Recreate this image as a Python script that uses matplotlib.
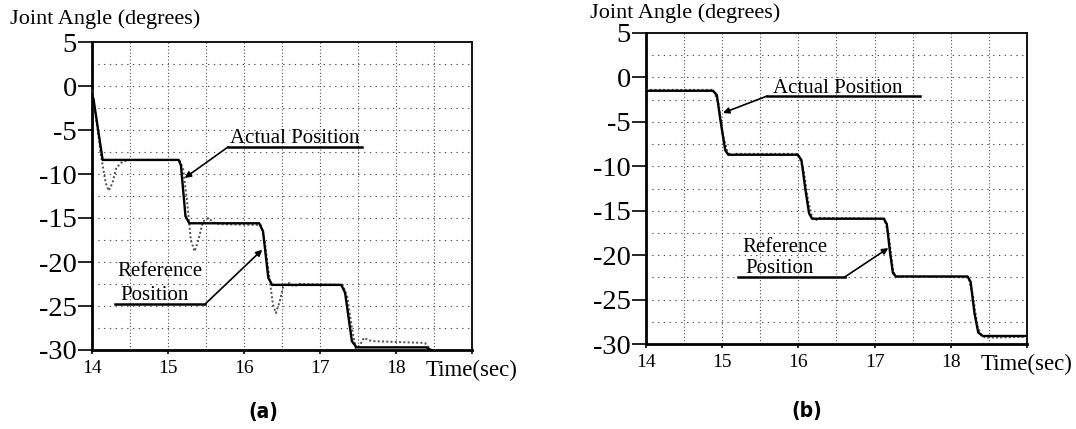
import numpy as np
import matplotlib
matplotlib.use("Agg")
import matplotlib.pyplot as plt

plt.rcParams["font.family"] = ["Liberation Serif", "DejaVu Serif"]
plt.rcParams["axes.unicode_minus"] = False

# panel (a): step response with oscillation
t_ref_a = [14.00, 14.02, 14.14, 15.14, 15.17, 15.23, 15.28, 16.20, 16.25, 16.32, 16.37,
           17.28, 17.33, 17.42, 17.48, 18.40, 18.46]
ref_a = [-1.0, -1.5, -8.4, -8.4, -9.0, -14.8, -15.6, -15.6, -16.5, -21.8, -22.6,
         -22.6, -23.5, -29.0, -29.7, -29.7, -30.0]

t_act_a = [14.00, 14.05, 14.12, 14.18, 14.22, 14.27, 14.32, 14.40, 14.50, 15.15, 15.20,
           15.25, 15.30, 15.35, 15.40, 15.46, 15.53, 15.60, 15.68, 16.22, 16.27, 16.33,
           16.38, 16.42, 16.47, 16.52, 16.60, 16.66, 16.72, 17.30, 17.36, 17.42, 17.47,
           17.52, 17.58, 17.64, 17.72, 18.38, 18.46]
act_a = [-0.5, -3.5, -8.0, -11.0, -11.9, -11.0, -9.3, -8.6, -8.4, -8.4, -9.5,
         -13.0, -17.5, -18.8, -17.5, -15.4, -15.0, -15.5, -15.7, -15.8, -17.5, -21.5,
         -24.8, -25.8, -24.5, -22.6, -22.4, -22.8, -22.5, -22.6, -24.0, -27.5, -29.8,
         -29.5, -28.6, -28.9, -29.0, -29.2, -30.0]

# panel (b): well damped response
t_ref_b = [14.0, 14.88, 14.93, 14.98, 15.04, 15.08, 15.99, 16.04, 16.09, 16.14, 16.18,
           17.12, 17.16, 17.20, 17.24, 17.28, 18.22, 18.26, 18.31, 18.36, 18.42, 19.0]
ref_b = [-1.5, -1.5, -2.0, -5.0, -8.2, -8.7, -8.7, -9.3, -12.5, -15.3, -15.9,
         -15.9, -16.5, -19.5, -22.0, -22.4, -22.4, -23.0, -26.5, -28.7, -29.1, -29.1]

t_act_b = [14.0, 14.88, 14.95, 15.01, 15.07, 15.12, 15.18, 16.00, 16.07, 16.13, 16.18,
           16.22, 16.28, 17.13, 17.19, 17.24, 17.28, 17.33, 18.23, 18.29, 18.35, 18.40,
           18.46, 19.0]
act_b = [-1.4, -1.4, -2.8, -6.5, -8.4, -8.8, -8.6, -8.6, -10.5, -14.0, -15.7,
         -16.1, -15.8, -15.9, -18.0, -21.6, -22.6, -22.4, -22.5, -24.5, -28.0, -29.0,
         -29.3, -29.2]

x_ticks = [14, 15, 16, 17, 18, 19]
x_labels = ["14", "15", "16", "17", "18", "Time(sec)"]
y_ticks = [5, 0, -5, -10, -15, -20, -25, -30]

W, H = 1076, 429


def px_rect(x0, y0, x1, y1):
    return [x0 / W, 1 - y1 / H, (x1 - x0) / W, (y1 - y0) / H]


def setup_axes(ax):
    ax.set_xlim(14, 19)
    ax.set_ylim(-30, 5)
    ax.set_xticks(x_ticks)
    ax.set_xticklabels(x_labels)
    ax.set_yticks(y_ticks)
    ax.set_yticklabels([str(v) for v in y_ticks])
    for lab in ax.get_xticklabels():
        lab.set_fontsize(14)
    ax.get_xticklabels()[-1].set_fontsize(16.5)
    ax.tick_params(axis="y", labelsize=20.5, length=10, width=1.2, pad=1)
    ax.tick_params(axis="x", length=3, width=1.2, pad=4)
    for v in np.arange(-27.5, 5, 2.5):
        ax.axhline(v, color="0.3", lw=0.8, ls=(0, (1.2, 4)), zorder=1)
    for v in np.arange(14.5, 19, 0.5):
        ax.axvline(v, color="0.3", lw=0.8, ls=(0, (1, 2)), zorder=1)
    for side in ["left", "bottom"]:
        ax.spines[side].set_linewidth(2.0)
    for side in ["top", "right"]:
        ax.spines[side].set_linewidth(1.3)


def callout(ax, lines, xs, ys, x0, x1, yline, tip):
    for s, xx, yy in zip(lines, xs, ys):
        ax.text(xx, yy, s, fontsize=15, ha="left", va="baseline", zorder=5)
    ax.plot([x0, x1], [yline, yline], color="black", lw=1.8, zorder=5)
    start = x0 if tip[0] < x0 else x1
    ax.annotate("", xy=tip, xytext=(start, yline),
                arrowprops=dict(arrowstyle="-|>", color="black", lw=1.2,
                                mutation_scale=9, shrinkA=0, shrinkB=0),
                zorder=5)


fig = plt.figure(figsize=(W / 100, H / 100), dpi=100)

ax_a = fig.add_axes(px_rect(92, 42, 472, 350))
setup_axes(ax_a)
ax_a.plot(t_act_a, act_a, color="0.3", lw=1.4, ls=(0, (1, 1.2)), zorder=3)
ax_a.plot(t_ref_a, ref_a, color="black", lw=1.7, zorder=4)
callout(ax_a, ["Actual Position"], [15.82], [-6.5], 15.79, 17.55, -6.93, (15.22, -10.45))
callout(ax_a, ["Reference", "Position"], [14.33, 14.37], [-21.6, -24.3],
        14.30, 15.49, -24.77, (16.24, -18.6))

ax_b = fig.add_axes(px_rect(646, 33, 1027, 344))
setup_axes(ax_b)
ax_b.plot(t_act_b, act_b, color="0.3", lw=1.4, ls=(0, (1, 1.2)), zorder=3)
ax_b.plot(t_ref_b, ref_b, color="black", lw=1.7, zorder=4)
callout(ax_b, ["Actual Position"], [15.67], [-1.7], 15.59, 17.60, -2.09, (15.01, -4.0))
callout(ax_b, ["Reference", "Position"], [15.26, 15.30], [-19.6, -22.0],
        15.21, 16.61, -22.45, (17.18, -19.2))

fig.text(10 / W, 1 - 19 / H, "Joint Angle (degrees)", fontsize=16, va="center", ha="left")
fig.text(590 / W, 1 - 13 / H, "Joint Angle (degrees)", fontsize=16, va="center", ha="left")

fig.text(263 / W, 1 - 412 / H, "(a)", fontsize=15, fontweight="bold",
         family="DejaVu Sans", stretch="condensed", ha="center", va="center")
fig.text(807 / W, 1 - 411 / H, "(b)", fontsize=15, fontweight="bold",
         family="DejaVu Sans", stretch="condensed", ha="center", va="center")

fig.savefig("out.png", dpi=100)
